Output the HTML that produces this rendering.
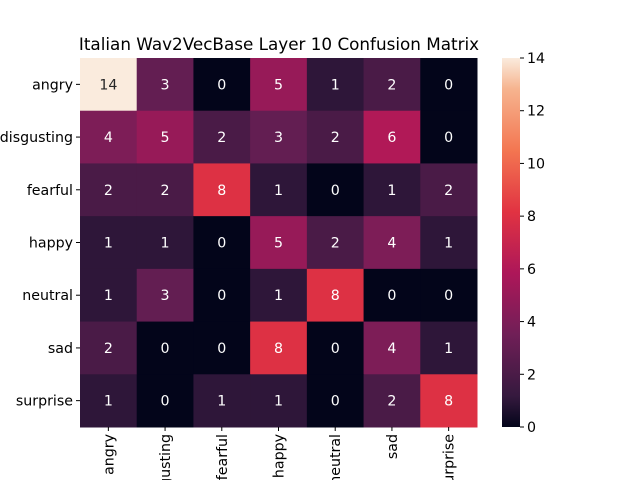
<!DOCTYPE html>
<html><head><meta charset="utf-8"><style>
body{margin:0;background:#fff}
svg text{font-family:"DejaVu Sans","Liberation Sans",sans-serif}
</style></head><body>
<svg id="chart" width="640" height="480" xmlns="http://www.w3.org/2000/svg">
<defs><linearGradient id="cbg" x1="0" y1="1" x2="0" y2="0">
<stop offset="0" stop-color="#03051A"/><stop offset="0.0833" stop-color="#35193E"/><stop offset="0.25" stop-color="#701F57"/><stop offset="0.4167" stop-color="#AD1759"/><stop offset="0.5833" stop-color="#E13342"/><stop offset="0.75" stop-color="#F37651"/><stop offset="0.9167" stop-color="#F6B48F"/><stop offset="1" stop-color="#FAEBDD"/>
</linearGradient></defs>
<text x="279" y="50" font-size="16.8" text-anchor="middle">Italian Wav2VecBase Layer 10 Confusion Matrix</text>
<g id="cells"></g>
<rect x="502" y="58" width="18" height="369" fill="url(#cbg)"/>
<g id="cbticks"></g>
</svg>
<script>
const labels=["angry","disgusting","fearful","happy","neutral","sad","surprise"];
const row0=[14,3,0,5,1,2,0];
const row1=[4,5,2,3,2,6,0];
const row2=[2,2,8,1,0,1,2];
const row3=[1,1,0,5,2,4,1];
const row4=[1,3,0,1,8,0,0];
const row5=[2,0,0,8,0,4,1];
const row6=[1,0,1,1,0,2,8];
const matrix=[row0,row1,row2,row3,row4,row5,row6];
const cbTicks=[0,2,4,6,8,10,12,14];
const vmin=0,vmax=14;
const X0=80,X1=477,Y0=58,Y1=427;
const cw=(X1-X0)/labels.length,ch=(Y1-Y0)/labels.length;
const xPos=i=>X0+i*cw, yPos=i=>Y0+i*ch;
const cbY=v=>Y1-(v-vmin)/(vmax-vmin)*(Y1-Y0);
const stops=[[0,[3,5,26]],[0.0833,[53,25,62]],[0.25,[112,31,87]],[0.4167,[173,23,89]],[0.5833,[225,51,66]],[0.75,[243,118,81]],[0.9167,[246,180,143]],[1,[250,235,221]]];
function cmap(t){for(let i=1;i<stops.length;i++){if(t<=stops[i][0]){const a=stops[i-1],b=stops[i];const f=(t-a[0])/(b[0]-a[0]);return a[1].map((c,k)=>Math.round(c+(b[1][k]-c)*f));}}return stops[stops.length-1][1];}
const NS="http://www.w3.org/2000/svg";
const svg=document.getElementById('chart');
const g=document.getElementById('cells');
function mk(tag,attrs,parent){const e=document.createElementNS(NS,tag);for(const k in attrs)e.setAttribute(k,attrs[k]);parent.appendChild(e);return e;}
const FS='14.2';
matrix.forEach((row,r)=>row.forEach((v,c)=>{
  const col=cmap((v-vmin)/(vmax-vmin));
  const rect=mk('rect',{x:xPos(c),y:yPos(r),width:cw+0.5,height:ch+0.5,fill:`rgb(${col})`},g);
  
  
  const lum=(0.299*col[0]+0.587*col[1]+0.114*col[2])/255;
  const t=mk('text',{x:xPos(c)+cw/2,y:yPos(r)+ch/2+5,'font-size':FS,'text-anchor':'middle',fill:lum>0.6?'#262626':'#fff'},g);
  t.textContent=v;
  
  
}));
labels.forEach((l,i)=>{
  const cy=yPos(i)+ch/2;
  mk('line',{x1:X0-4,y1:cy,x2:X0,y2:cy,stroke:'#000'},svg);
  const t=mk('text',{x:X0-7,y:cy+5,'font-size':FS,'text-anchor':'end'},svg);
  t.textContent=l;
  
  
  const cx=xPos(i)+cw/2;
  mk('line',{x1:cx,y1:Y1,x2:cx,y2:Y1+4,stroke:'#000'},svg);
  const tx=mk('text',{x:0,y:0,'font-size':FS,'text-anchor':'end',transform:`translate(${cx+5},${Y1+7}) rotate(-90)`},svg);
  tx.textContent=l;
  
  
});
const cb=document.getElementById('cbticks');
cbTicks.forEach(v=>{
  const y=cbY(v);
  mk('line',{x1:520,y1:y,x2:524,y2:y,stroke:'#000'},cb);
  const t=mk('text',{x:527,y:y+5,'font-size':FS},cb);
  t.textContent=v;
  
  
});
</script>
</body></html>
